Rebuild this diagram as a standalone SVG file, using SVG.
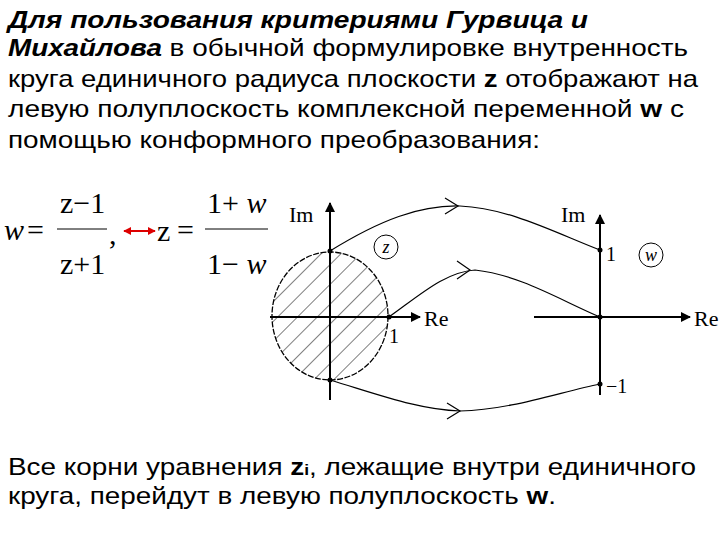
<svg xmlns="http://www.w3.org/2000/svg" width="720" height="540" viewBox="0 0 720 540">
<style>
.t{font-family:"Liberation Sans",Arial,sans-serif;font-size:24px;fill:#000}
.m{font-family:"Liberation Serif","Times New Roman",serif;fill:#000}
.ax{stroke:#000;stroke-width:2;fill:none}
.c{stroke:#000;stroke-width:1.2;fill:none}
</style>
<defs>
<marker id="ah" viewBox="0 0 10 10" refX="9" refY="5" markerWidth="5" markerHeight="5" orient="auto"><path d="M0,0L10,5L0,10z" fill="#000"/></marker>
<marker id="ra" viewBox="0 0 10 10" refX="9" refY="5" markerWidth="4" markerHeight="4" orient="auto-start-reverse"><path d="M0,0L10,5L0,10z" fill="#d00"/></marker>
<clipPath id="cc"><ellipse cx="330" cy="316" rx="58" ry="64"/></clipPath>
<pattern id="h" width="14" height="14" patternUnits="userSpaceOnUse" patternTransform="rotate(45)"><line x1="0" y1="0" x2="0" y2="14" stroke="#000" stroke-width="1"/></pattern>
</defs>
<g id="text-top">
<text class="t" x="8" y="28" font-weight="bold" font-style="italic" textLength="580" lengthAdjust="spacingAndGlyphs">Для пользования критериями Гурвица и</text>
<text class="t" x="8" y="56" textLength="680" lengthAdjust="spacingAndGlyphs"><tspan font-weight="bold" font-style="italic">Михайлова</tspan> в обычной формулировке внутренность</text>
<text class="t" x="8" y="87" textLength="690" lengthAdjust="spacingAndGlyphs">круга единичного радиуса плоскости <tspan font-weight="bold">z</tspan> отображают на</text>
<text class="t" x="8" y="117" textLength="676" lengthAdjust="spacingAndGlyphs">левую полуплоскость комплексной переменной <tspan font-weight="bold">w</tspan> с</text>
<text class="t" x="8" y="148" textLength="532" lengthAdjust="spacingAndGlyphs">помощью конформного преобразования:</text>
</g>
<g id="formula">
<text class="m" x="4" y="240" font-size="30" font-style="italic">w</text>
<text class="m" x="27" y="240" font-size="30">=</text>
<text class="m" x="60" y="213" font-size="30">z−1</text>
<line x1="57" y1="229" x2="107" y2="229" stroke="#000"/>
<text class="m" x="60" y="274" font-size="30">z+1</text>
<text class="m" x="109" y="244" font-size="30">,</text>
<line x1="124" y1="231" x2="155" y2="231" stroke="#d00" stroke-width="2" marker-start="url(#ra)" marker-end="url(#ra)"/>
<text class="m" x="157" y="241" font-size="30">z</text>
<text class="m" x="177" y="240" font-size="30">=</text>
<text class="m" x="207" y="213" font-size="30">1+ <tspan font-style="italic">w</tspan></text>
<line x1="205" y1="229" x2="268" y2="229" stroke="#000"/>
<text class="m" x="207" y="274" font-size="30">1− <tspan font-style="italic">w</tspan></text>
</g>
<g id="z-plane">
<rect x="270" y="250" width="120" height="132" fill="url(#h)" clip-path="url(#cc)"/>
<ellipse cx="330" cy="316" rx="58" ry="64" fill="none" stroke="#000" stroke-width="1.3" stroke-dasharray="6,1.5"/>
<line class="ax" x1="330" y1="400" x2="330" y2="203" marker-end="url(#ah)"/>
<line class="ax" x1="270" y1="317" x2="420" y2="317" marker-end="url(#ah)"/>
<circle cx="330" cy="251" r="2.5"/><circle cx="330" cy="380" r="2.5"/><circle cx="389" cy="317" r="2.5"/>
<text class="m" x="289" y="222" font-size="22">Im</text>
<text class="m" x="424" y="326" font-size="22">Re</text>
<text class="m" x="389" y="343" font-size="20">1</text>
<circle cx="386" cy="247" r="12" fill="none" stroke="#000"/>
<text class="m" x="386" y="253" font-size="18" text-anchor="middle" font-style="italic">z</text>
</g>
<g id="w-plane">
<line class="ax" x1="600" y1="395" x2="600" y2="215" marker-end="url(#ah)"/>
<line class="ax" x1="534" y1="317" x2="690" y2="317" marker-end="url(#ah)"/>
<circle cx="600" cy="250" r="2.5"/><circle cx="600" cy="317" r="2.5"/><circle cx="600" cy="384" r="2.5"/>
<text class="m" x="561" y="222" font-size="22">Im</text>
<text class="m" x="694" y="326" font-size="22">Re</text>
<text class="m" x="606" y="261" font-size="20">1</text>
<text class="m" x="606" y="393" font-size="20">−1</text>
<circle cx="651" cy="255" r="12" fill="none" stroke="#000"/>
<text class="m" x="651" y="261" font-size="18" text-anchor="middle" font-style="italic">w</text>
</g>
<g id="connectors">
<path class="c" d="M330,251 C380,220 420,205 460,206 C510,208 560,235 600,250"/>
<path d="M445,198 L458,206 L445,214" class="c"/>
<path class="c" d="M389,317 C420,295 445,272 475,270 C520,275 560,300 600,317"/>
<path d="M457,261 L470,270 L457,279" class="c"/>
<path class="c" d="M330,380 C380,395 420,410 460,411 C510,410 560,392 600,384"/>
<path d="M447,403 L460,411 L447,419" class="c"/>
</g>
<g id="text-bottom">
<text class="t" x="8" y="475" textLength="688" lengthAdjust="spacingAndGlyphs">Все корни уравнения <tspan font-weight="bold">z</tspan><tspan font-weight="bold" font-size="15">i</tspan>, лежащие внутри единичного</text>
<text class="t" x="8" y="504" textLength="548" lengthAdjust="spacingAndGlyphs">круга, перейдут в левую полуплоскость <tspan font-weight="bold">w</tspan>.</text>
</g>
</svg>
